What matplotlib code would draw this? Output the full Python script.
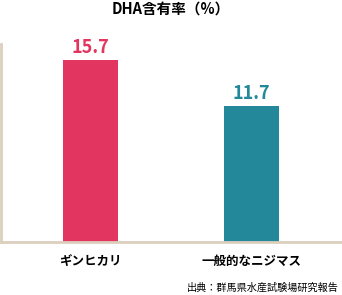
import matplotlib
matplotlib.use("Agg")
import matplotlib.pyplot as plt

categories = ["ギンヒカリ", "一般的なニジマス"]
values = [15.7, 11.7]
value_labels = ["15.7", "11.7"]
colors = ["#e23660", "#23899a"]
title = "DHA含有率（%）"
source = "出典：群馬県水産試験場研究報告"

plt.rcParams['font.family'] = ['Noto Sans CJK JP', 'DejaVu Sans']

fig = plt.figure(figsize=(3.42, 2.95), dpi=100)
ax = fig.add_axes([1 / 342, 53 / 295, 341 / 342, 198 / 295])

x = range(len(categories))
ax.bar(x, values, width=0.342, color=colors)
for i, v in enumerate(values):
    ax.text(i, v + 0.25, value_labels[i], ha='center', va='bottom',
            fontsize=13, fontweight='bold', color=colors[i])

ax.set_xlim(-0.555, 1.563)
ax.set_ylim(0, 17.07)
ax.set_xticks(list(x))
ax.set_xticklabels(categories, fontsize=9, fontweight='bold')
ax.tick_params(axis='x', length=0, pad=9)
ax.set_yticks([])

for s in ['top', 'right']:
    ax.spines[s].set_visible(False)
for s in ['left', 'bottom']:
    ax.spines[s].set_color('#dccfbd')
    ax.spines[s].set_linewidth(2)

fig.text(0.5, 1 - 10 / 295, title, ha='center', va='center',
         fontsize=10.5, fontweight='bold')
fig.text(339 / 342, 1 - 288 / 295, source, ha='right', va='center',
         fontsize=7.3)

fig.savefig("out.png", dpi=100)
